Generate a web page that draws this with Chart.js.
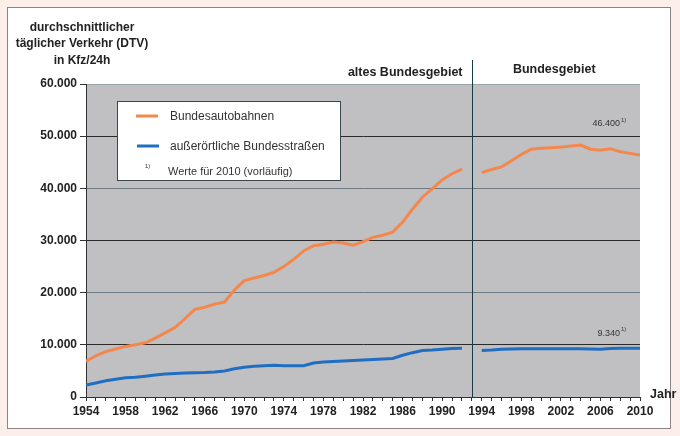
<!DOCTYPE html>
<html>
<head>
<meta charset="utf-8">
<script src="https://cdn.jsdelivr.net/npm/chart.js@4.4.1/dist/chart.umd.min.js"></script>
<style>
  html, body { margin: 0; padding: 0; background: #fcefe9; }
  #wrap { position: relative; width: 680px; height: 436px; }
  #frame { position: absolute; left: 7px; top: 7px; width: 664px; height: 422px;
           background: #fff; border: 1px solid #8c8484; box-sizing: border-box; }
  #grafico { position: absolute; left: 0; top: 0; }
</style>
</head>
<body>
<div id="wrap">
  <div id="frame"></div>
  <canvas id="grafico" width="680" height="436"></canvas>
</div>
<script>
// Jahre (1993 = Lücke zwischen altem Bundesgebiet und Bundesgebiet)
const jahre = [1954, 1955, 1956, 1957, 1958, 1959, 1960, 1961, 1962, 1963,
    1964, 1965, 1966, 1967, 1968, 1969, 1970, 1971, 1972, 1973,
    1974, 1975, 1976, 1977, 1978, 1979, 1980, 1981, 1982, 1983,
    1984, 1985, 1986, 1987, 1988, 1989, 1990, 1991, 1992, 1993,
    1994, 1995, 1996, 1997, 1998, 1999, 2000, 2001, 2002, 2003,
    2004, 2005, 2006, 2007, 2008, 2009, 2010];

// DTV Bundesautobahnen (Kfz/24h)
const autobahnen = [6800, 7900, 8700, 9200, 9700, 10000, 10400, 11300, 12300, 13300,
    15000, 16800, 17200, 17800, 18200, 20500, 22300, 22800, 23300, 23900,
    25000, 26400, 28000, 29000, 29300, 29700, 29500, 29100, 29800, 30600,
    31000, 31600, 33500, 36000, 38300, 39900, 41600, 42800, 43700, null,
    43000, 43600, 44100, 45300, 46500, 47500, 47700, 47800, 47900, 48100,
    48300, 47500, 47300, 47600, 47000, 46700, 46400];

// DTV außerörtliche Bundesstraßen (Kfz/24h)
const bundesstrassen = [2300, 2700, 3100, 3400, 3700, 3800, 4000, 4200, 4400, 4500,
    4600, 4650, 4700, 4800, 5000, 5400, 5700, 5900, 6000, 6100,
    6000, 6000, 6000, 6500, 6700, 6800, 6900, 7000, 7100, 7200,
    7300, 7400, 8000, 8500, 8900, 9000, 9150, 9300, 9350, null,
    8900, 9000, 9150, 9200, 9250, 9250, 9250, 9250, 9250, 9250,
    9250, 9200, 9150, 9300, 9350, 9350, 9340];

const xLabels = ['1954', '1958', '1962', '1966', '1970', '1974', '1978', '1982',
    '1986', '1990', '1994', '1998', '2002', '2006', '2010'];
const yLabels = ['0', '10.000', '20.000', '30.000', '40.000', '50.000', '60.000'];

const fonte = '"Liberation Sans", Arial, sans-serif';

// Texte und Legende im Diagramm
const extras = {
    id: 'extras',
    beforeDraw(chart) {
        const { ctx, chartArea: a } = chart;
        ctx.save();
        ctx.fillStyle = '#c0c0c2';
        ctx.fillRect(a.left, a.top, a.right - a.left, a.bottom - a.top);
        ctx.restore();
    },
    afterDraw(chart) {
        const { ctx, chartArea: a, scales } = chart;
        const x = scales.x, y = scales.y;
        ctx.save();

        // Trennlinie altes Bundesgebiet / Bundesgebiet
        const xt = Math.round(x.getPixelForValue(1993)) + 0.5;
        ctx.strokeStyle = '#1d3a48';
        ctx.lineWidth = 1;
        ctx.beginPath();
        ctx.moveTo(xt, 60);
        ctx.lineTo(xt, a.bottom);
        ctx.stroke();

        ctx.fillStyle = '#222';
        ctx.font = 'bold 12px ' + fonte;
        ctx.textBaseline = 'middle';
        ctx.textAlign = 'center';
        ctx.fillText('durchschnittlicher', 82, 28);
        ctx.fillText('täglicher Verkehr (DTV)', 82, 44);
        ctx.fillText('in Kfz/24h', 82, 61);

        ctx.font = 'bold 12.5px ' + fonte;
        ctx.textAlign = 'right';
        ctx.fillText('altes Bundesgebiet', xt - 10, 73);
        ctx.textAlign = 'center';
        ctx.fillText('Bundesgebiet', (xt + a.right) / 2 - 2, 70);
        ctx.textAlign = 'left';
        ctx.fillText('Jahr', a.right + 10, a.bottom - 2);

        // Werte 2010
        const letzte = jahre.length - 1;
        const x2010 = x.getPixelForValue(jahre[letzte]);
        const notiz = (txt, py) => {
            ctx.font = '9px ' + fonte;
            ctx.textAlign = 'right';
            ctx.fillStyle = '#333';
            ctx.fillText(txt, x2010 - 20, py);
            ctx.font = '6px ' + fonte;
            ctx.textAlign = 'left';
            ctx.fillText('1)', x2010 - 19, py - 4);
        };
        notiz('46.400', y.getPixelForValue(autobahnen[letzte]) - 31);
        notiz('9.340', y.getPixelForValue(bundesstrassen[letzte]) - 15);

        // Legende
        ctx.fillStyle = '#fff';
        ctx.fillRect(117, 101, 223, 79);
        ctx.strokeStyle = '#3a4650';
        ctx.lineWidth = 1;
        ctx.strokeRect(117.5, 101.5, 223, 79);

        ctx.lineWidth = 3;
        ctx.strokeStyle = '#f3874c';
        ctx.beginPath(); ctx.moveTo(136, 116); ctx.lineTo(158, 116); ctx.stroke();
        ctx.strokeStyle = '#1f6ec2';
        ctx.beginPath(); ctx.moveTo(137, 146); ctx.lineTo(159, 146); ctx.stroke();

        ctx.fillStyle = '#333';
        ctx.textAlign = 'left';
        ctx.font = '12px ' + fonte;
        ctx.fillText('Bundesautobahnen', 170, 117);
        ctx.fillText('außerörtliche Bundesstraßen', 170, 147);
        ctx.font = '11px ' + fonte;
        ctx.fillText('Werte für 2010 (vorläufig)', 168, 172);
        ctx.font = '6px ' + fonte;
        ctx.fillText('1)', 145, 166);

        ctx.restore();
    }
};

const ctx = document.getElementById('grafico').getContext('2d');
const grafico = new Chart(ctx, {
    type: 'line',
    data: {
        datasets: [{
            label: 'Bundesautobahnen',
            data: jahre.map((j, i) => ({ x: j, y: autobahnen[i] })),
            borderColor: '#f3874c',
            borderWidth: 3,
            pointRadius: 0,
            tension: 0,
            spanGaps: false
        }, {
            label: 'außerörtliche Bundesstraßen',
            data: jahre.map((j, i) => ({ x: j, y: bundesstrassen[i] })),
            borderColor: '#1f6ec2',
            borderWidth: 3,
            pointRadius: 0,
            tension: 0,
            spanGaps: false
        }]
    },
    options: {
        responsive: false,
        animation: false,
        layout: { padding: { left: 0, top: 84, right: 40, bottom: 0 } },
        plugins: {
            legend: { display: false },
            tooltip: { enabled: false }
        },
        scales: {
            x: {
                type: 'linear',
                min: 1954,
                max: 2010,
                afterFit(scale) { scale.height = 39; },
                ticks: {
                    stepSize: 1,
                    autoSkip: false,
                    maxRotation: 0,
                    padding: 3,
                    color: '#222',
                    font: { family: fonte, size: 12, weight: 'bold' },
                    callback: function(value) {
                        return xLabels.includes(String(value)) ? String(value) : '';
                    }
                },
                grid: {
                    drawOnChartArea: false,
                    tickLength: 4,
                    tickColor: '#333'
                },
                border: { color: '#333', width: 1 }
            },
            y: {
                min: 0,
                max: 60000,
                afterFit(scale) { scale.width = 86; },
                ticks: {
                    stepSize: 10000,
                    padding: 3,
                    color: '#222',
                    font: { family: fonte, size: 12, weight: 'bold' },
                    callback: function(value) {
                        return yLabels[value / 10000];
                    }
                },
                grid: {
                    tickLength: 6,
                    tickColor: '#333',
                    color: function(c) {
                        const v = c.tick.value;
                        if (v === 60000) return '#9aa4ab';
                        return (v / 10000) % 2 === 1 ? '#2a2a2a' : '#6d7a84';
                    }
                },
                border: { color: '#333', width: 1 }
            }
        }
    },
    plugins: [extras]
});
</script>
</body>
</html>
